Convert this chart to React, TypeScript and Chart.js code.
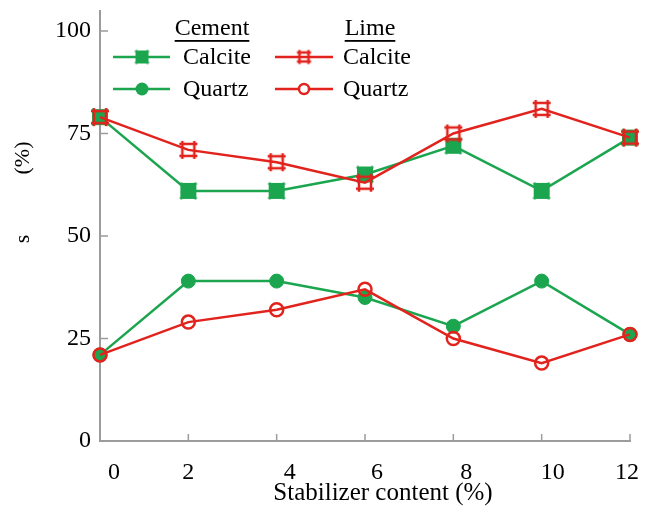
import React, { useEffect, useRef } from "react";
import { Chart, registerables } from "chart.js";

Chart.register(...registerables);

// Stabilizer content (%) on the x axis
const stabilizer = [0, 2, 4, 6, 8, 10, 12];
// Mineral content (%) per stabilizer
const cementCalcite = [79, 61, 61, 65, 72, 61, 74];
const cementQuartz = [21, 39, 39, 35, 28, 39, 26];
const limeCalcite = [79, 71, 68, 63, 75, 81, 74];
const limeQuartz = [21, 29, 32, 37, 25, 19, 26];
const yTickValues = [0, 25, 50, 75, 100];
const xTickLabels = ["0", "2", "4", "6", "8", "10", "12"];

const GREEN = "#1ca54f";
const RED = "#e2231d";
const AXIS = "#9c9c9c";
const FONT = "'Liberation Serif', 'Times New Roman', serif";

// small horizontal nudges of the x tick labels
const xLabelShift = [14, 0, 13, 12, 13, 11, -3];

function squareMarker(size: number, ext: number, color: string, lw: number, fill: boolean) {
  const pad = Math.ceil(ext + lw);
  const full = size + 2 * pad;
  const c = document.createElement("canvas");
  c.width = full;
  c.height = full;
  const g = c.getContext("2d")!;
  const a = pad;
  const b = pad + size;
  if (fill) {
    g.fillStyle = color;
    g.fillRect(a, a, size, size);
  }
  g.strokeStyle = color;
  g.lineWidth = lw;
  g.beginPath();
  g.moveTo(a - ext, a); g.lineTo(b + ext, a);
  g.moveTo(a - ext, b); g.lineTo(b + ext, b);
  g.moveTo(a, a - ext); g.lineTo(a, b + ext);
  g.moveTo(b, a - ext); g.lineTo(b, b + ext);
  g.stroke();
  return c;
}

const pts = (vals: number[]) => vals.map((v, i) => ({ x: stabilizer[i], y: v }));

export default function App() {
  const ref = useRef<HTMLCanvasElement>(null);

  useEffect(() => {
    document.body.style.margin = "0";
    const greenSquare = squareMarker(14, 1.5, GREEN, 2, true);
    const redSquare = squareMarker(12, 3, RED, 2.5, false);
    const greenSquareSmall = squareMarker(11, 1.5, GREEN, 2, true);
    const redSquareSmall = squareMarker(9, 2.5, RED, 2.5, false);

    const decor = {
      id: "decor",
      beforeDatasetsDraw(chart: any) {
        const { ctx, chartArea: a, scales } = chart;
        const x = scales.x;
        const y = scales.y;
        ctx.save();
        ctx.strokeStyle = AXIS;
        ctx.lineWidth = 1.5;
        ctx.beginPath();
        yTickValues.forEach((v) => {
          if (v === 0) return;
          const py = y.getPixelForValue(v);
          ctx.moveTo(a.left, py);
          ctx.lineTo(a.left + 8, py);
        });
        stabilizer.forEach((v) => {
          if (v === 0) return;
          const px = x.getPixelForValue(v);
          ctx.moveTo(px, a.bottom);
          ctx.lineTo(px, a.bottom - 7);
        });
        ctx.stroke();
        ctx.restore();
      },
      afterDraw(chart: any) {
        const { ctx, chartArea: a, scales } = chart;
        const x = scales.x;
        ctx.save();
        ctx.fillStyle = "#000";
        ctx.font = `24px ${FONT}`;
        ctx.textAlign = "center";
        ctx.textBaseline = "middle";
        // x tick labels
        stabilizer.forEach((v, i) => {
          ctx.fillText(xTickLabels[i], x.getPixelForValue(v) + xLabelShift[i], a.bottom + 32);
        });
        // x title
        ctx.font = `25px ${FONT}`;
        ctx.fillText("Stabilizer content (%)", (a.left + a.right) / 2 + 18, a.bottom + 52);

        // y title
        ctx.font = `22px ${FONT}`;
        const rot = (txt: string, px: number, py: number) => {
          ctx.save();
          ctx.translate(px, py);
          ctx.rotate(-Math.PI / 2);
          ctx.fillText(txt, 0, 0);
          ctx.restore();
        };
        rot("s", 23, 239);
        rot("(%)", 23, 158);

        // legend
        ctx.font = `24px ${FONT}`;
        const header = (txt: string, cx: number, cy: number) => {
          ctx.textAlign = "center";
          ctx.fillText(txt, cx, cy);
          const w = ctx.measureText(txt).width;
          ctx.fillRect(cx - w / 2, cy + 11, w, 1.8);
        };
        header("Cement", 212, 29);
        header("Lime", 370, 29);

        const sample = (x1: number, x2: number, y: number, color: string, draw: () => void) => {
          ctx.strokeStyle = color;
          ctx.lineWidth = 2.5;
          ctx.beginPath();
          ctx.moveTo(x1, y);
          ctx.lineTo(x2, y);
          ctx.stroke();
          draw();
        };
        const img = (c: HTMLCanvasElement, cx: number, cy: number) =>
          ctx.drawImage(c, cx - c.width / 2, cy - c.height / 2);

        sample(113, 170, 57, GREEN, () => img(greenSquareSmall, 142, 57));
        sample(113, 170, 89, GREEN, () => {
          ctx.fillStyle = GREEN;
          ctx.beginPath();
          ctx.arc(142, 89, 6.5, 0, Math.PI * 2);
          ctx.fill();
        });
        sample(275, 333, 57, RED, () => img(redSquareSmall, 304, 57));
        sample(275, 333, 89, RED, () => {
          ctx.fillStyle = "#fff";
          ctx.strokeStyle = RED;
          ctx.lineWidth = 2.5;
          ctx.beginPath();
          ctx.arc(304, 89, 5, 0, Math.PI * 2);
          ctx.fill();
          ctx.stroke();
        });

        ctx.fillStyle = "#000";
        ctx.textAlign = "left";
        ctx.fillText("Calcite", 183, 58);
        ctx.fillText("Quartz", 183, 90);
        ctx.fillText("Calcite", 343, 58);
        ctx.fillText("Quartz", 343, 90);
        ctx.restore();
      },
    };

    const chart = new Chart(ref.current!, {
      type: "line",
      data: {
        datasets: [
          {
            label: "Lime Calcite",
            data: pts(limeCalcite),
            borderColor: RED,
            borderWidth: 2.5,
            pointStyle: redSquare as any,
            pointRadius: 8,
            order: 0,
            clip: false as any,
          },
          {
            label: "Lime Quartz",
            data: pts(limeQuartz),
            borderColor: RED,
            borderWidth: 2.5,
            pointStyle: "circle",
            pointRadius: 6.5,
            pointBorderWidth: 2.5,
            pointBorderColor: RED,
            pointBackgroundColor: "rgba(0,0,0,0)",
            order: 1,
            clip: false as any,
          },
          {
            label: "Cement Calcite",
            data: pts(cementCalcite),
            borderColor: GREEN,
            borderWidth: 2.5,
            pointStyle: greenSquare as any,
            pointRadius: 8,
            order: 2,
            clip: false as any,
          },
          {
            label: "Cement Quartz",
            data: pts(cementQuartz),
            borderColor: GREEN,
            borderWidth: 2.5,
            pointStyle: "circle",
            pointRadius: 7,
            pointBorderWidth: 1,
            pointBorderColor: GREEN,
            pointBackgroundColor: GREEN,
            order: 3,
            clip: false as any,
          },
        ],
      },
      options: {
        responsive: false,
        animation: false,
        layout: { padding: { left: 0, right: 21, top: 8, bottom: 71 } },
        plugins: { legend: { display: false }, tooltip: { enabled: false } },
        scales: {
          x: {
            type: "linear",
            min: 0,
            max: 12,
            ticks: { display: false, stepSize: 2 },
            grid: { display: false, drawTicks: false },
            border: { display: true, color: AXIS, width: 2 },
            afterFit: (s: any) => {
              s.height = 0;
              s.paddingLeft = 0;
              s.paddingRight = 0;
            },
          },
          y: {
            min: 0,
            max: 105,
            ticks: {
              stepSize: 25,
              padding: 9,
              color: "#000",
              font: { family: FONT, size: 24 },
            },
            grid: { display: false, drawTicks: false },
            border: { display: true, color: AXIS, width: 2 },
            afterFit: (s: any) => {
              s.width = 100;
              s.paddingTop = 0;
              s.paddingBottom = 0;
            },
            afterBuildTicks: (s: any) => {
              s.ticks = yTickValues.map((v) => ({ value: v }));
            },
          },
        },
      },
      plugins: [decor],
    });
    return () => chart.destroy();
  }, []);

  return (
    <div style={{ width: 651, height: 512 }}>
      <canvas ref={ref} width={651} height={512} />
    </div>
  );
}
